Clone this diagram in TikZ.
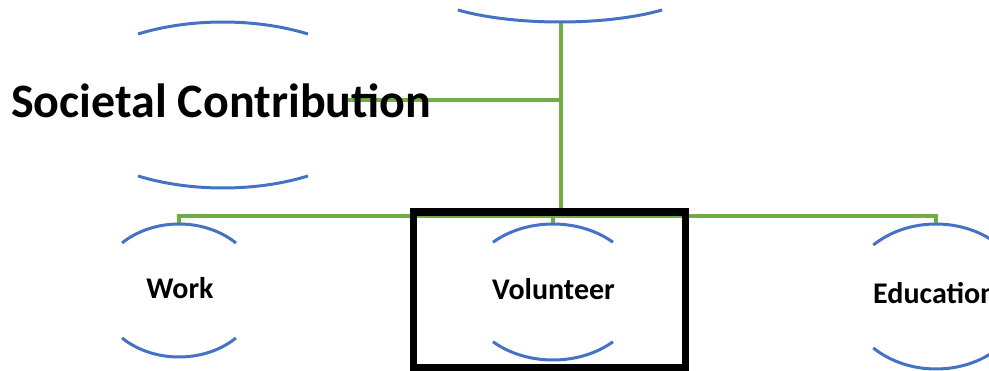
\documentclass[tikz,border=0pt]{standalone}
\usepackage{fontspec}
\setmainfont{Carlito}
\usetikzlibrary{backgrounds}
\definecolor{arcblue}{RGB}{68,114,196}
\definecolor{linkgreen}{RGB}{112,173,71}
% upper and lower arcs of an open ellipse: centre, angle, x radius, y radius
\newcommand\ghostarcs[4]{%
  \draw[arcline] (#1) ++(#2:#3 and #4) arc[start angle=#2, end angle=180-#2, x radius=#3, y radius=#4];
  \draw[arcline] (#1) ++(180+#2:#3 and #4) arc[start angle=180+#2, end angle=360-#2, x radius=#3, y radius=#4];}
\begin{document}
\begin{tikzpicture}[x=1pt,y=1pt,
  arcline/.style={draw=arcblue, line width=3pt},
  link/.style={draw=linkgreen, line width=3.4pt},
  label/.style={font=\bfseries\fontsize{30}{36}\selectfont, inner sep=0pt},
  title/.style={font=\bfseries\fontsize{48}{58}\selectfont, inner sep=0pt},
  highlight/.style={draw=black, line width=7.5pt}]
\useasboundingbox (0,0) rectangle (989,-371);

% ellipse centres
\coordinate (topc) at (560,20);
\coordinate (socc) at (223,-105);
\coordinate (workc) at (179,-290.5);
\coordinate (volc) at (553,-292);
\coordinate (educ) at (936,-296.5);

% text
\node[title, anchor=base west] (soc) at (11,-118) {Societal Contribution};
\node[label, anchor=base] (work) at (180,-299) {Work};
\node[label, anchor=base] (vol) at (553.5,-300) {Volunteer};
\node[label, anchor=base west] (edu) at (873,-304) {Education};

% open ellipse outlines
\draw[arcline] (topc) ++(225.6:146 and 42) arc[start angle=225.6, end angle=314.4, x radius=146, y radius=42];
\ghostarcs{socc}{58.8}{164}{83}
\ghostarcs{workc}{45.6}{81.4}{66.5}
\ghostarcs{volc}{47}{88}{68}
\ghostarcs{educ}{45.2}{89}{72.5}

% connection points
\coordinate (topb) at (561,-22);
\coordinate (soclink) at (348,-100);
\coordinate (bus) at (561,-216);
\coordinate (workt) at (179,-223);
\coordinate (volt) at (553,-223);
\coordinate (edut) at (936,-223);

\begin{scope}[on background layer]
  \draw[link] (topb) -- (bus);
  \draw[link] (soclink) -- (soclink -| topb);
  \draw[link] (workt) -- (workt |- bus) -- (edut |- bus) -- (edut);
  \draw[link] (volt) -- (volt |- bus);
\end{scope}

% highlight frame round the volunteer entry
\draw[highlight] (413.5,-212) rectangle (685.5,-367.5);
\end{tikzpicture}
\end{document}
